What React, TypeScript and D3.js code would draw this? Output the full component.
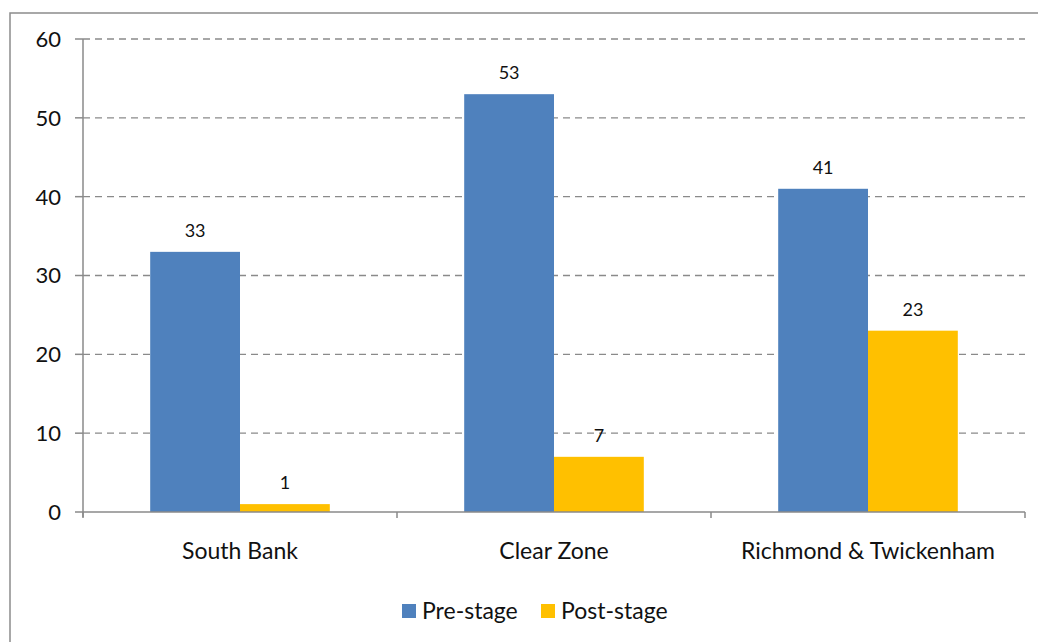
import * as d3 from "d3";

const categories = ["South Bank", "Clear Zone", "Richmond & Twickenham"];
const seriesNames = ["Pre-stage", "Post-stage"];
const preStage = [33, 53, 41];
const postStage = [1, 7, 23];
const yTicks = [0, 10, 20, 30, 40, 50, 60];

const colors = ["#4F81BD", "#FFC000"];
const font = "Lato, 'Open Sans', sans-serif";

export default function App() {
  const W = 1038;
  const H = 642;
  const plot = { left: 83, right: 1025, top: 39, bottom: 512 };

  const x = d3
    .scaleBand()
    .domain(categories)
    .range([plot.left, plot.right]);

  const y = d3.scaleLinear().domain([0, 60]).range([plot.bottom, plot.top]);

  // bar width 90 in a 314 band (Excel gap width ~150%)
  const barW = x.bandwidth() * 0.286;

  const series = [preStage, postStage];
  const gridTicks = yTicks.filter((t) => t > 0);
  const xTicks = [...categories.map((c) => x(c)!), plot.right];

  return (
    <div style={{ position: "fixed", left: 0, top: 0 }}>
      <svg width={W} height={H} style={{ display: "block" }}>
        <rect x={0} y={0} width={W} height={H} fill="#fff" />
        <rect
          x={10}
          y={13}
          width={W + 20}
          height={H + 20}
          fill="none"
          stroke="#8c8c8c"
          strokeWidth={1.5}
        />

        {/* grid */}
        {gridTicks.map((t) => (
          <line
            key={"g" + t}
            x1={plot.left}
            x2={plot.right}
            y1={y(t)}
            y2={y(t)}
            stroke="#8a8a8a"
            strokeWidth={1.3}
            strokeDasharray="7,5"
          />
        ))}

        {/* bars */}
        {series.map((vals, si) =>
          vals.map((v, i) => {
            const cx = x(categories[i])! + x.bandwidth() / 2;
            const bx = si === 0 ? cx - barW : cx;
            return (
              <g key={`b${si}-${i}`}>
                <rect
                  x={bx}
                  y={y(v)}
                  width={barW}
                  height={y(0) - y(v)}
                  fill={colors[si]}
                />
                <text
                  x={bx + barW / 2}
                  y={y(v) - 15}
                  textAnchor="middle"
                  fontFamily={font}
                  fontSize={18}
                  fill="#111"
                >
                  {v}
                </text>
              </g>
            );
          })
        )}

        {/* y axis */}
        <line
          x1={plot.left}
          x2={plot.left}
          y1={plot.top}
          y2={plot.bottom + 5}
          stroke="#8a8a8a"
          strokeWidth={1.5}
        />
        {yTicks.map((t) => (
          <g key={"y" + t}>
            <line
              x1={plot.left - 8}
              x2={plot.left}
              y1={y(t)}
              y2={y(t)}
              stroke="#8a8a8a"
              strokeWidth={1.5}
            />
            <text
              x={61}
              y={y(t)}
              dy="0.36em"
              textAnchor="end"
              fontFamily={font}
              fontSize={22}
              fill="#111"
            >
              {t}
            </text>
          </g>
        ))}

        {/* x axis */}
        <line
          x1={plot.left}
          x2={plot.right}
          y1={plot.bottom}
          y2={plot.bottom}
          stroke="#8a8a8a"
          strokeWidth={1.5}
        />
        {xTicks.map((tx, i) => (
          <line
            key={"xt" + i}
            x1={tx}
            x2={tx}
            y1={plot.bottom}
            y2={plot.bottom + 6}
            stroke="#8a8a8a"
            strokeWidth={1.5}
          />
        ))}
        {categories.map((c) => (
          <text
            key={c}
            x={x(c)! + x.bandwidth() / 2}
            y={559}
            textAnchor="middle"
            fontFamily={font}
            fontSize={23}
            fill="#111"
          >
            {c}
          </text>
        ))}

        {/* legend */}
        {seriesNames.map((name, i) => {
          const lx = i === 0 ? 402 : 541;
          return (
            <g key={name}>
              <rect x={lx} y={604} width={14} height={14} fill={colors[i]} />
              <text
                x={lx + 20}
                y={619}
                fontFamily={font}
                fontSize={23}
                fill="#111"
              >
                {name}
              </text>
            </g>
          );
        })}
      </svg>
    </div>
  );
}
